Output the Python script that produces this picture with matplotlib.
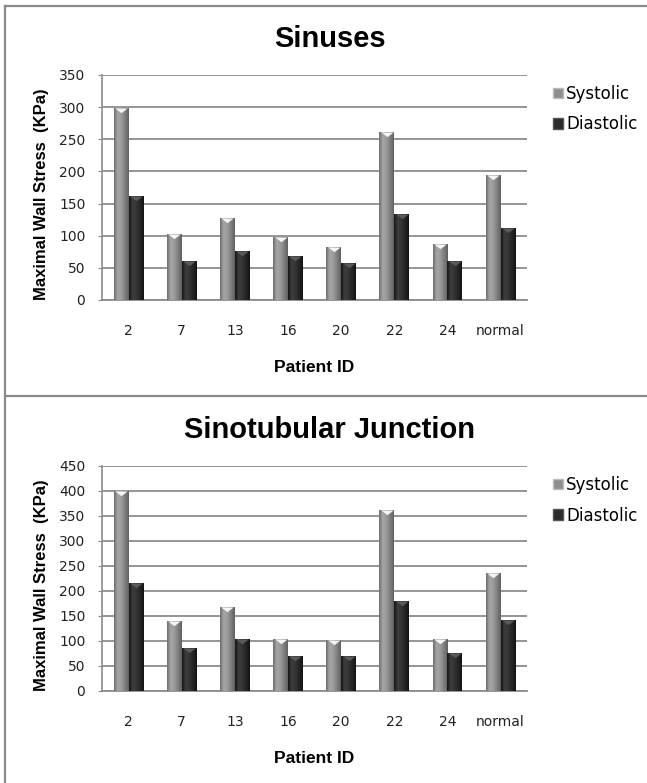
import matplotlib
matplotlib.use("Agg")
import matplotlib.pyplot as plt
import numpy as np
from matplotlib.path import Path
from matplotlib.patches import Patch
from matplotlib.lines import Line2D
from matplotlib.colors import LinearSegmentedColormap

plt.rcParams['font.family'] = ['Liberation Sans', 'DejaVu Sans']

patients = ["2", "7", "13", "16", "20", "22", "24", "normal"]

# maximal wall stress in KPa
sinus_sys = [298, 103, 127, 98, 82, 262, 87, 195]
sinus_dia = [162, 61, 76, 68, 57, 134, 61, 112]
stj_sys = [400, 140, 168, 104, 102, 361, 104, 235]
stj_dia = [215, 86, 103, 70, 70, 180, 76, 142]

W = 0.28
grid_col = "#8c8c8c"

# cylinder look: dark edges, light band left of centre
sys_cmap = LinearSegmentedColormap.from_list(
    "sys", ["#6e6e6e", "#a6a6a6", "#9a9a9a", "#7e7e7e", "#606060"])
dia_cmap = LinearSegmentedColormap.from_list(
    "dia", ["#161616", "#3e3e3e", "#343434", "#252525", "#121212"])
ramp = np.linspace(0, 1, 64).reshape(1, -1)

# small triangle hanging from the top of each bar
tri = Path([(-1, 0), (1, 0), (0, -0.75), (-1, 0)],
           [Path.MOVETO, Path.LINETO, Path.LINETO, Path.CLOSEPOLY])


def shade(ax, bars, cmap):
    for b in bars:
        x0, w, h = b.get_x(), b.get_width(), b.get_height()
        im = ax.imshow(ramp, cmap=cmap, aspect="auto",
                       extent=(x0, x0 + w, 0, h), zorder=3)
        im.set_clip_path(b)


def panel(ax, title, sys_v, dia_v, ymax):
    x = np.arange(len(patients))
    b1 = ax.bar(x - W / 2, sys_v, W, color="#8e8e8e", zorder=2)
    b2 = ax.bar(x + W / 2, dia_v, W, color="#2b2b2b", zorder=2)
    shade(ax, b1, sys_cmap)
    shade(ax, b2, dia_cmap)
    ax.scatter(x - W / 2, sys_v, marker=tri, s=80, color="#f4f4f4",
               linewidths=0, zorder=4)
    ax.scatter(x + W / 2, dia_v, marker=tri, s=80, color="#5a5a5a",
               linewidths=0, zorder=4)

    ax.set_xlim(-0.5, len(patients) - 0.5)
    ax.set_ylim(0, ymax)
    ax.set_yticks(np.arange(0, ymax + 1, 50))
    ax.yaxis.grid(True, color=grid_col, lw=1.3)
    ax.set_axisbelow(True)
    ax.set_xticks(x)
    ax.set_xticklabels(patients)
    ax.tick_params(axis="x", length=0, pad=17, labelsize=10, labelcolor="#222222")
    ax.tick_params(axis="y", length=3, color=grid_col, pad=9, labelsize=10,
                   labelcolor="#222222")
    for lab in ax.get_xticklabels() + ax.get_yticklabels():
        lab.set_family("DejaVu Sans")
    for s in ["top", "right"]:
        ax.spines[s].set_visible(False)
    ax.spines["left"].set_color(grid_col)
    ax.spines["bottom"].set_color(grid_col)
    ax.spines["left"].set_linewidth(1.2)
    ax.spines["bottom"].set_linewidth(1.3)
    ax.set_xlabel("Patient ID", fontsize=12.5, fontweight="bold", labelpad=16)
    ax.set_ylabel("Maximal Wall Stress  (KPa)", fontsize=12, fontweight="bold")
    ax.yaxis.set_label_coords(-0.125, 0.47)
    ax.set_title(title, fontsize=21, fontweight="bold", pad=20, x=0.536)

    handles = [Patch(facecolor="#8e8e8e", edgecolor="#bdbdbd"),
               Patch(facecolor="#2b2b2b", edgecolor="#555555")]
    leg = ax.legend(handles, ["Systolic", "Diastolic"], loc="upper left",
                    bbox_to_anchor=(1.045, 0.985), frameon=False,
                    prop={"family": "DejaVu Sans", "size": 12},
                    handlelength=0.6, handleheight=0.6, handletextpad=0.2,
                    labelspacing=0.75, borderaxespad=0)
    return leg


fig = plt.figure(figsize=(6.47, 7.83), dpi=100)
ax1 = fig.add_axes([0.1577, 0.6169, 0.657, 0.2874])
ax2 = fig.add_axes([0.1577, 0.1175, 0.657, 0.2874])
panel(ax1, "Sinuses", sinus_sys, sinus_dia, 350)
panel(ax2, "Sinotubular Junction", stj_sys, stj_dia, 450)

# frame lines around the two chart boxes
fx = 5 / 647
ytop = 1 - 6 / 783
ymid = 1 - 396 / 783
for xs, ys in [([fx, fx], [ytop, 0]), ([fx, 1], [ytop, ytop]),
               ([fx, 1], [ymid, ymid])]:
    fig.add_artist(Line2D(xs, ys, transform=fig.transFigure,
                          color="#8a8a8a", lw=1.6))

fig.savefig("out.png", dpi=100)
